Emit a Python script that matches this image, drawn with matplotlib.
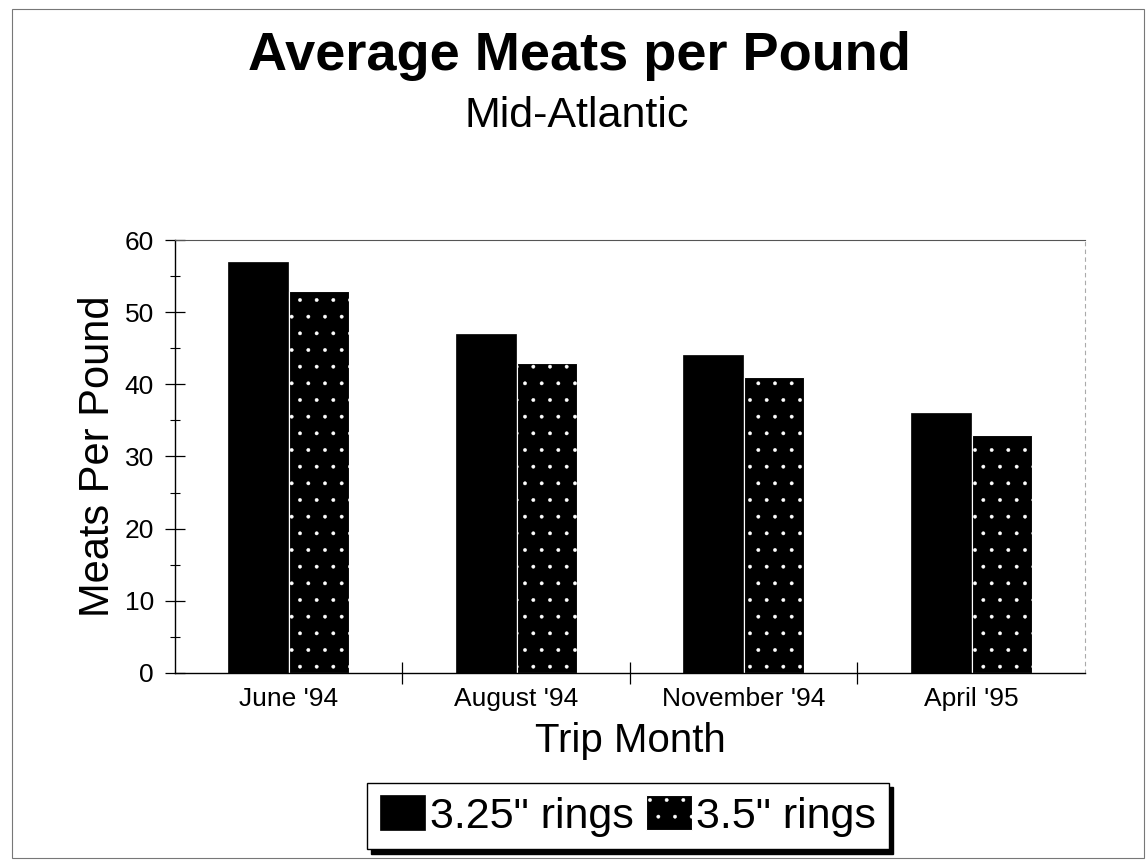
import matplotlib.pyplot as plt
import numpy as np
from matplotlib.patches import Rectangle
from matplotlib.ticker import FixedLocator, MultipleLocator

plt.rcParams['font.family'] = ['Liberation Sans', 'DejaVu Sans']
plt.rcParams['hatch.linewidth'] = 0.3

months = ["June '94", "August '94", "November '94", "April '95"]
rings_325 = [57, 47, 44, 36]
rings_35 = [53, 43, 41, 33]

fig = plt.figure(figsize=(11.48, 8.63), dpi=100)
ax = fig.add_axes([0.1524, 0.2202, 0.7927, 0.5017])

x = np.arange(len(months))
w = 0.262
ax.bar(x - 0.134, rings_325, width=w, color='black', edgecolor='black',
       linewidth=0.5, label='3.25" rings', zorder=2)
ax.bar(x + 0.134, rings_35, width=w, color='black', edgecolor='white',
       hatch='.', linewidth=0.8, label='3.5" rings', zorder=2)

ax.set_xlim(-0.5, len(months) - 0.5)
ax.set_ylim(0, 60)

# y axis: ticks that cross the spine, minor marks every 5
ax.yaxis.set_major_locator(MultipleLocator(10))
ax.yaxis.set_minor_locator(MultipleLocator(5))
ax.tick_params(axis='y', which='major', direction='inout', length=14, width=0.9,
               labelsize=19, pad=8)
ax.tick_params(axis='y', which='minor', direction='inout', length=7, width=0.8)

# x axis: tick marks between groups, labels centred under them
ax.xaxis.set_major_locator(FixedLocator(x[:-1] + 0.5))
ax.xaxis.set_major_formatter(plt.NullFormatter())
ax.set_xticks(x, months, minor=True)
ax.tick_params(axis='x', which='major', direction='inout', length=16, width=0.9)
ax.tick_params(axis='x', which='minor', length=0, labelsize=19, pad=10)

ax.spines['left'].set_linewidth(1.0)
ax.spines['bottom'].set_linewidth(1.0)
ax.spines['top'].set_color('#555555')
ax.spines['top'].set_linewidth(0.8)
ax.spines['right'].set_color('#aaaaaa')
ax.spines['right'].set_linewidth(0.8)
ax.spines['right'].set_linestyle((0, (3, 4)))

ax.set_ylabel('Meats Per Pound', fontsize=30, labelpad=5)
ax.set_xlabel('Trip Month', fontsize=29, labelpad=8)

fig.text(0.5045, 0.935, 'Average Meats per Pound', ha='center', va='center',
         fontsize=39, fontweight='bold')
fig.text(0.502, 0.866, 'Mid-Atlantic', ha='center', va='center', fontsize=31)

leg = fig.legend(loc='center', bbox_to_anchor=(0.547, 0.0545), ncol=2,
                 fontsize=31, frameon=True, fancybox=False,
                 shadow={'color': 'black', 'alpha': 1, 'ox': 3, 'oy': -3},
                 handlelength=1.05, handleheight=0.85, handletextpad=0.1,
                 columnspacing=0.3, borderpad=0.3, borderaxespad=0)
leg.get_frame().set_edgecolor('black')
leg.get_frame().set_linewidth(1.0)

# page border
fig.patches.append(Rectangle((12 / 1148, 5 / 863), 1132 / 1148, 849 / 863,
                             transform=fig.transFigure, fill=False,
                             edgecolor='#777777', linewidth=0.8))

fig.savefig('out.png', dpi=100, facecolor='white')
